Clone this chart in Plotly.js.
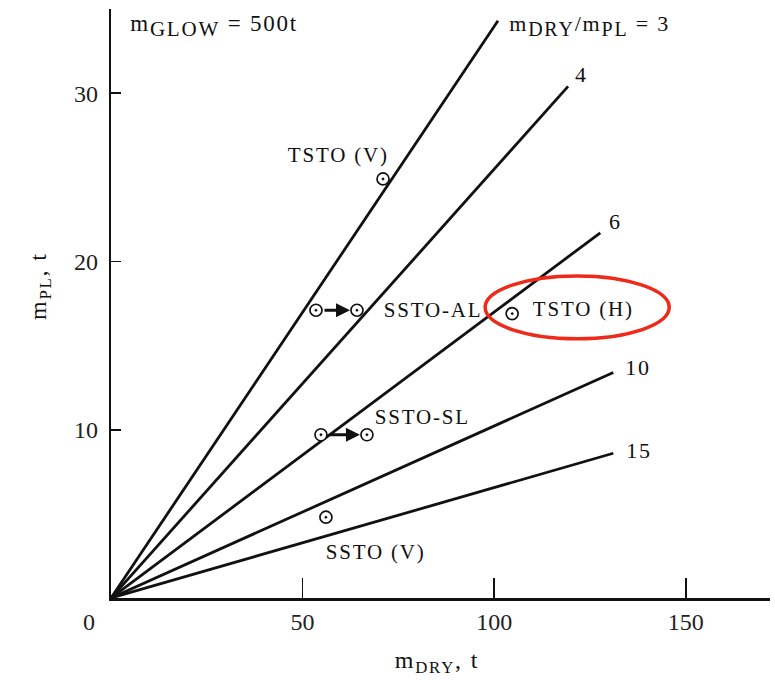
<!DOCTYPE html>
<html>
<head>
<meta charset="utf-8">
<script src="https://cdn.plot.ly/plotly-3.0.1.min.js"></script>
<style>
  html, body { margin: 0; padding: 0; background: #fff; }
  #plot { width: 775px; height: 686px; }
  #plot .annotation-text { letter-spacing: 1.8px; }
</style>
</head>
<body>
<div id="plot"></div>
<script>
// Constant dry-mass / payload ratio lines (through the origin)
const dryPlRatios = [3, 4, 6, 10, 15];
const lineEndX = [101.0, 119.3, 127.7, 131.1, 131.1];
const lineEndY = [34.3, 30.4, 21.7, 13.4, 8.6];
const ratioLabelX = [106.3, 122.8, 131.8, 137.6, 137.8];
const ratioLabelY = [34.0, 31.1, 22.35, 13.7, 8.75];

// Vehicle design points (m_DRY, m_PL)
const pointX = [71.0, 53.5, 64.2, 104.7, 54.8, 66.8, 56.1];
const pointY = [24.9, 17.1, 17.1, 16.9, 9.7, 9.7, 4.8];
const arrowFrom = [1, 4];
const arrowTo = [2, 5];

// Vehicle labels
const vehicleNames = ['TSTO (V)', 'SSTO-AL', 'TSTO (H)', 'SSTO-SL', 'SSTO (V)'];
const vehicleLabelX = [59.3, 72.3, 111.5, 70.0, 57.5];
const vehicleLabelY = [26.3, 17.1, 17.2, 10.77, 2.76];
const vehicleLabelAnchor = ['center', 'left', 'left', 'left', 'left'];

// Highlight ellipse around TSTO (H)
const ellipseX = [97.65, 145.7];
const ellipseY = [15.4, 19.14];

// Axis ticks
const xTickVals = [50, 100, 150];
const yTickVals = [10, 20, 30];

const serif = 'Liberation Serif, Times New Roman, serif';
const ink = '#111111';

const traces = [];
dryPlRatios.forEach((r, i) => {
  traces.push({
    type: 'scatter', mode: 'lines',
    x: [0, lineEndX[i]], y: [0, lineEndY[i]],
    line: { color: ink, width: 2.8 },
    hoverinfo: 'skip', showlegend: false, cliponaxis: false
  });
});
traces.push({
  type: 'scatter', mode: 'markers',
  x: pointX, y: pointY,
  marker: { symbol: 'circle-dot', size: 12, color: 'white', line: { color: ink, width: 1.7 } },
  showlegend: false, cliponaxis: false
});

const annotations = [];
dryPlRatios.forEach((r, i) => {
  const txt = i === 0
    ? 'm<sub><span style="font-size:20px">DRY</span></sub>/m<sub><span style="font-size:20px">PL</span></sub> = ' + r
    : String(r);
  annotations.push({
    x: ratioLabelX[i], y: ratioLabelY[i], xref: 'x', yref: 'y',
    text: txt, showarrow: false,
    xanchor: i === 0 ? 'left' : 'center', yanchor: 'middle',
    font: { family: serif, size: 22, color: ink }
  });
});
vehicleNames.forEach((n, i) => {
  annotations.push({
    x: vehicleLabelX[i], y: vehicleLabelY[i], xref: 'x', yref: 'y',
    text: n, showarrow: false,
    xanchor: vehicleLabelAnchor[i], yanchor: 'middle',
    font: { family: serif, size: 21, color: ink }
  });
});
arrowFrom.forEach((f, i) => {
  const t = arrowTo[i];
  annotations.push({
    x: pointX[t], y: pointY[t], xref: 'x', yref: 'y',
    ax: pointX[f], ay: pointY[f], axref: 'x', ayref: 'y',
    text: '', showarrow: true, arrowhead: 2, arrowsize: 1, arrowwidth: 2.8,
    arrowcolor: ink, standoff: 7, startstandoff: 7
  });
});
annotations.push({
  x: 7.3, y: 34.0, xref: 'x', yref: 'y',
  text: 'm<sub><span style="font-size:21px">GLOW</span></sub> = 500t', showarrow: false,
  xanchor: 'left', yanchor: 'middle',
  font: { family: serif, size: 23, color: ink }
});
annotations.push({
  x: -0.032, y: -0.04, xref: 'paper', yref: 'paper',
  text: '0', showarrow: false, xanchor: 'center', yanchor: 'middle',
  font: { family: serif, size: 24, color: '#222' }
});
annotations.push({
  x: 0.495, y: -0.108, xref: 'paper', yref: 'paper',
  text: 'm<sub>DRY</sub>, t', showarrow: false, xanchor: 'center', yanchor: 'middle',
  font: { family: serif, size: 24, color: ink }
});
annotations.push({
  x: -0.108, y: 0.53, xref: 'paper', yref: 'paper',
  text: 'm<sub>PL</sub>, t', showarrow: false, xanchor: 'center', yanchor: 'middle',
  textangle: -90,
  font: { family: serif, size: 24, color: ink }
});

const layout = {
  width: 775, height: 686,
  margin: { l: 111, r: 5, t: 9, b: 87.5 },
  paper_bgcolor: 'white', plot_bgcolor: 'white',
  showlegend: false,
  xaxis: {
    range: [0, 172], showgrid: false, zeroline: false,
    showline: true, linecolor: ink, linewidth: 2.8,
    ticks: 'inside', ticklen: 20, tickwidth: 1.6, tickcolor: ink,
    tickmode: 'array', tickvals: xTickVals,
    tickfont: { family: serif, size: 24, color: '#222' },
    ticklabelstandoff: 0, fixedrange: true
  },
  yaxis: {
    range: [0, 35], showgrid: false, zeroline: false,
    showline: true, linecolor: ink, linewidth: 2.2,
    ticks: 'inside', ticklen: 10, tickwidth: 1.6, tickcolor: ink,
    tickmode: 'array', tickvals: yTickVals,
    tickfont: { family: serif, size: 24, color: '#222' },
    ticklabelstandoff: 6, fixedrange: true
  },
  shapes: [{
    type: 'circle', xref: 'x', yref: 'y',
    x0: ellipseX[0], x1: ellipseX[1], y0: ellipseY[0], y1: ellipseY[1],
    line: { color: '#ee2a1b', width: 3.5 }
  }],
  annotations: annotations
};

Plotly.newPlot('plot', traces, layout, { displayModeBar: false, staticPlot: true });
</script>
</body>
</html>
